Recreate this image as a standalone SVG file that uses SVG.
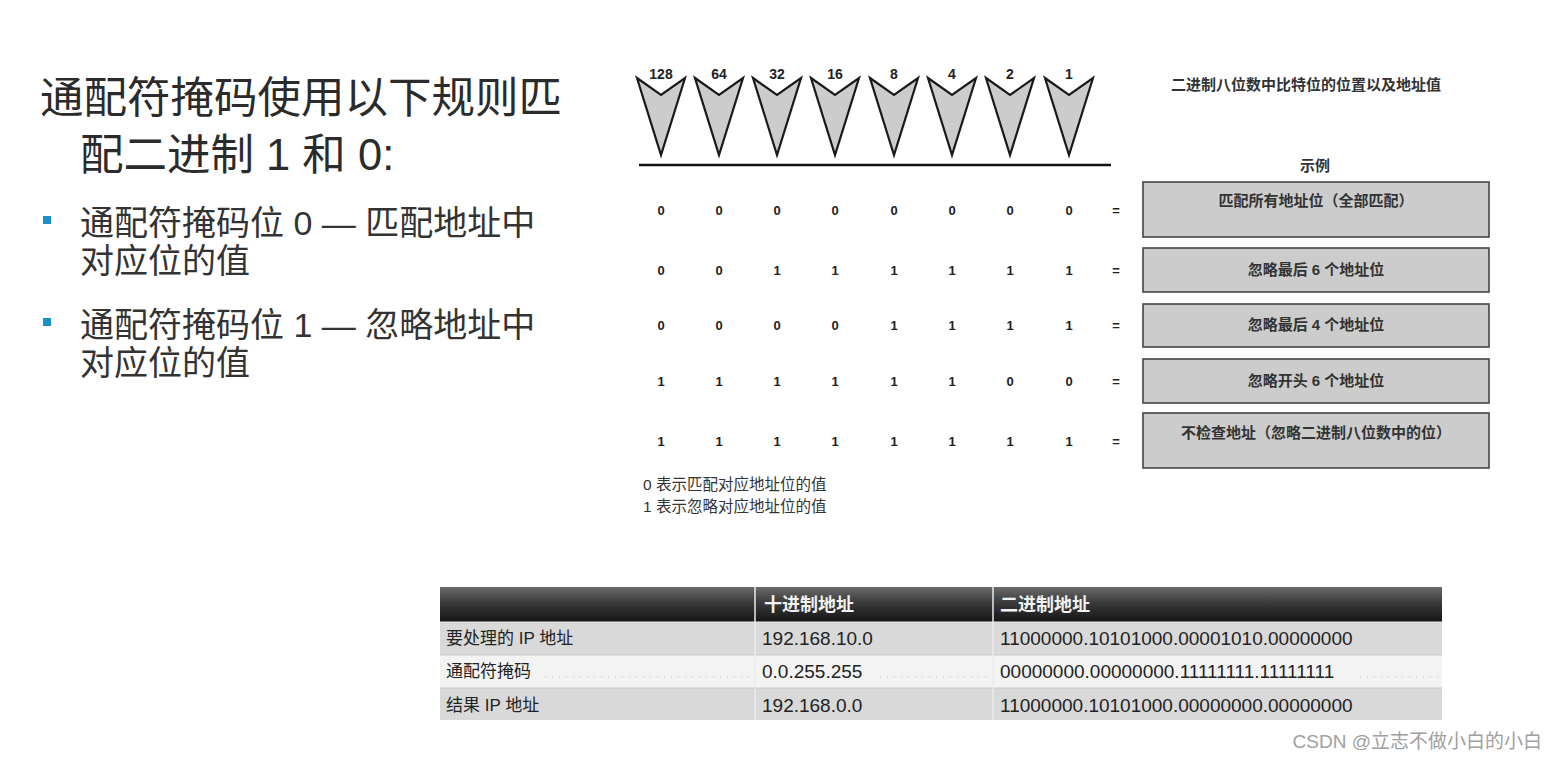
<svg xmlns="http://www.w3.org/2000/svg" width="1556" height="760" viewBox="0 0 1556 760">
<defs>
<style>
.t{font-family:"Liberation Sans","Noto Sans CJK SC",sans-serif;}
.title{font-size:43.5px;fill:#2b2b2b;}
.bul{font-size:34px;fill:#333;}
.num{font-size:14px;font-weight:bold;fill:#222;text-anchor:middle;}
.bit{font-size:13px;font-weight:bold;fill:#222;text-anchor:middle;}
.box{fill:#cccccc;stroke:#444;stroke-width:1.6;}
.bl{font-size:15px;font-weight:bold;fill:#333;text-anchor:middle;}
.arr{fill:#cccccc;stroke:#1a1a1a;stroke-width:2.2;stroke-linejoin:miter;}
.leg{font-size:15.5px;fill:#333;}
.th{font-size:18px;font-weight:bold;fill:#f2f2f2;}
.td{font-size:19px;fill:#222;}
.dot{stroke:#bbb;stroke-width:1;stroke-dasharray:1 6;}
</style>
<linearGradient id="hg" x1="0" y1="0" x2="0" y2="1">
<stop offset="0" stop-color="#6a6a6a"/>
<stop offset="0.45" stop-color="#3a3a3a"/>
<stop offset="1" stop-color="#151515"/>
</linearGradient>
<path id="ah" d="M-24,-77 L0,-60 L24,-77 L0,0 Z"/>
</defs>

<g id="left-text" class="t">
<text class="title" x="40" y="113">通配符掩码使用以下规则匹</text>
<text class="title" x="80" y="170">配二进制 1 和 0:</text>
<rect x="43" y="216" width="8" height="8" fill="#1a8fc9"/>
<text class="bul" x="80" y="235">通配符掩码位 0 — 匹配地址中</text>
<text class="bul" x="80" y="273">对应位的值</text>
<rect x="43" y="318" width="8" height="8" fill="#1a8fc9"/>
<text class="bul" x="80" y="337">通配符掩码位 1 — 忽略地址中</text>
<text class="bul" x="80" y="375">对应位的值</text>
</g>

<g id="bit-positions" class="t">
<use href="#ah" class="arr" transform="translate(661,155)"/>
<use href="#ah" class="arr" transform="translate(719,155)"/>
<use href="#ah" class="arr" transform="translate(777,155)"/>
<use href="#ah" class="arr" transform="translate(835,155)"/>
<use href="#ah" class="arr" transform="translate(894,155)"/>
<use href="#ah" class="arr" transform="translate(952,155)"/>
<use href="#ah" class="arr" transform="translate(1010,155)"/>
<use href="#ah" class="arr" transform="translate(1069,155)"/>
<text class="num" x="661" y="79">128</text>
<text class="num" x="719" y="79">64</text>
<text class="num" x="777" y="79">32</text>
<text class="num" x="835" y="79">16</text>
<text class="num" x="894" y="79">8</text>
<text class="num" x="952" y="79">4</text>
<text class="num" x="1010" y="79">2</text>
<text class="num" x="1069" y="79">1</text>
<line x1="639" y1="165" x2="1111" y2="165" stroke="#111" stroke-width="2.5"/>
<text x="1306" y="90" class="bl">二进制八位数中比特位的位置以及地址值</text>
<text x="1315" y="171" class="bl">示例</text>
</g>

<g id="bit-rows" class="t">
<g class="bit">
<text x="661" y="215">0</text><text x="719" y="215">0</text><text x="777" y="215">0</text><text x="835" y="215">0</text><text x="894" y="215">0</text><text x="952" y="215">0</text><text x="1010" y="215">0</text><text x="1069" y="215">0</text><text x="1116" y="215">=</text>
<text x="661" y="275">0</text><text x="719" y="275">0</text><text x="777" y="275">1</text><text x="835" y="275">1</text><text x="894" y="275">1</text><text x="952" y="275">1</text><text x="1010" y="275">1</text><text x="1069" y="275">1</text><text x="1116" y="275">=</text>
<text x="661" y="330">0</text><text x="719" y="330">0</text><text x="777" y="330">0</text><text x="835" y="330">0</text><text x="894" y="330">1</text><text x="952" y="330">1</text><text x="1010" y="330">1</text><text x="1069" y="330">1</text><text x="1116" y="330">=</text>
<text x="661" y="386">1</text><text x="719" y="386">1</text><text x="777" y="386">1</text><text x="835" y="386">1</text><text x="894" y="386">1</text><text x="952" y="386">1</text><text x="1010" y="386">0</text><text x="1069" y="386">0</text><text x="1116" y="386">=</text>
<text x="661" y="446">1</text><text x="719" y="446">1</text><text x="777" y="446">1</text><text x="835" y="446">1</text><text x="894" y="446">1</text><text x="952" y="446">1</text><text x="1010" y="446">1</text><text x="1069" y="446">1</text><text x="1116" y="446">=</text>
</g>
</g>

<g id="example-1" class="t"><rect class="box" x="1143" y="182" width="346" height="55"/><text class="bl" x="1316" y="206">匹配所有地址位（全部匹配）</text></g>
<g id="example-2" class="t"><rect class="box" x="1143" y="248" width="346" height="44"/><text class="bl" x="1316" y="275">忽略最后 6 个地址位</text></g>
<g id="example-3" class="t"><rect class="box" x="1143" y="304" width="346" height="43"/><text class="bl" x="1316" y="330">忽略最后 4 个地址位</text></g>
<g id="example-4" class="t"><rect class="box" x="1143" y="359" width="346" height="44"/><text class="bl" x="1316" y="386">忽略开头 6 个地址位</text></g>
<g id="example-5" class="t"><rect class="box" x="1143" y="413" width="346" height="55"/><text class="bl" x="1316" y="438">不检查地址（忽略二进制八位数中的位）</text></g>

<g id="legend" class="t">
<text class="leg" x="643" y="490">0 表示匹配对应地址位的值</text>
<text class="leg" x="643" y="512">1 表示忽略对应地址位的值</text>
</g>

<g id="table" class="t">
<rect x="440" y="587" width="1002" height="35" fill="url(#hg)"/>
<rect x="440" y="622" width="1002" height="33" fill="#d9d9d9"/>
<rect x="440" y="655" width="1002" height="33" fill="#f3f3f3"/>
<rect x="440" y="688" width="1002" height="32" fill="#d9d9d9"/>
<line x1="440" y1="622" x2="1442" y2="622" stroke="#e8e8e8" stroke-width="1"/>
<line x1="440" y1="655" x2="1442" y2="655" stroke="#c8c8c8" stroke-width="1"/>
<line x1="440" y1="688" x2="1442" y2="688" stroke="#c8c8c8" stroke-width="1"/>
<line x1="755" y1="587" x2="755" y2="720" stroke="#eaeaea" stroke-width="1.5"/>
<line x1="993" y1="587" x2="993" y2="720" stroke="#eaeaea" stroke-width="1.5"/>
<line class="dot" x1="545" y1="677" x2="750" y2="677"/>
<line class="dot" x1="880" y1="677" x2="990" y2="677"/>
<line class="dot" x1="1360" y1="677" x2="1440" y2="677"/>
<text class="th" x="764" y="611">十进制地址</text>
<text class="th" x="1000" y="611">二进制地址</text>
<text class="td" x="446" y="644" style="font-size:17px">要处理的 IP 地址</text>
<text class="td" x="762" y="645">192.168.10.0</text>
<text class="td" x="1000" y="645">11000000.10101000.00001010.00000000</text>
<text class="td" x="446" y="677" style="font-size:17px">通配符掩码</text>
<text class="td" x="762" y="678">0.0.255.255</text>
<text class="td" x="1000" y="678">00000000.00000000.11111111.11111111</text>
<text class="td" x="446" y="711" style="font-size:17px">结果 IP 地址</text>
<text class="td" x="762" y="712">192.168.0.0</text>
<text class="td" x="1000" y="712">11000000.10101000.00000000.00000000</text>
</g>

<g id="watermark" class="t">
<text x="1542" y="748" text-anchor="end" style="font-size:19px;fill:#a0a0a0">CSDN @立志不做小白的小白</text>
</g>
</svg>
